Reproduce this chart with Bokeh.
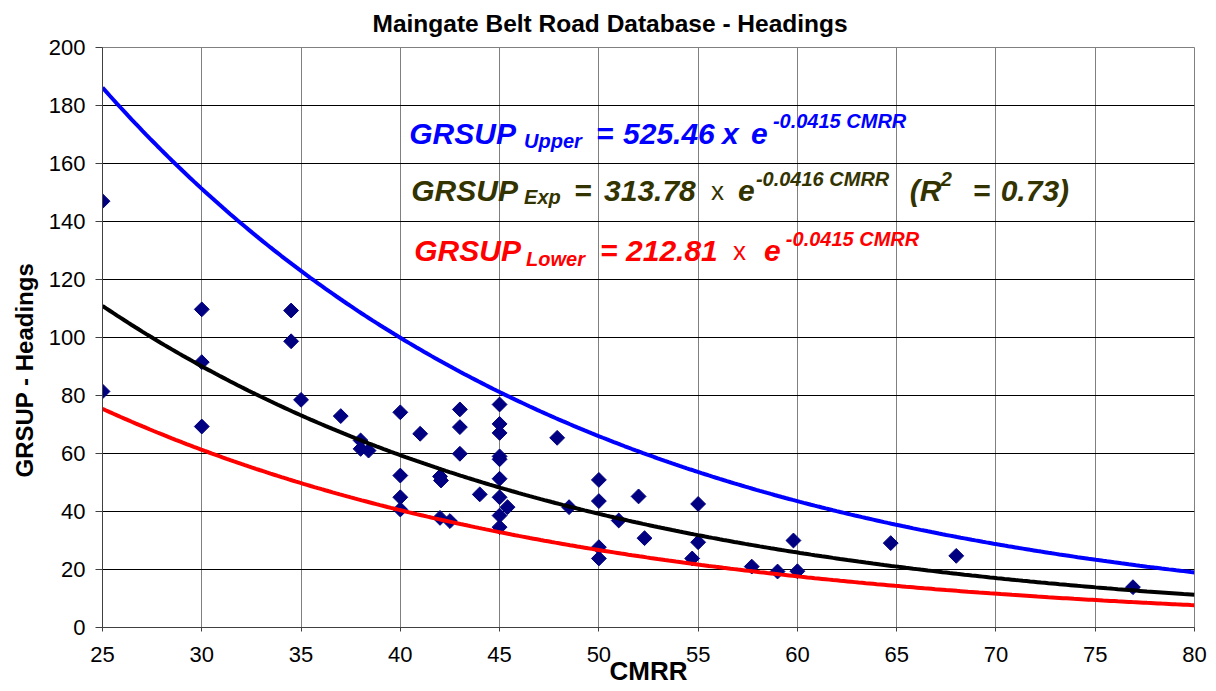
import numpy as np
from bokeh.plotting import figure
from bokeh.models import Range1d, FixedTicker, Label, Title
from bokeh.embed import file_html
from bokeh.resources import INLINE

# ---- data ----
cmrr = [25, 25, 30, 30, 30, 34.5, 34.5, 35, 37, 38, 38, 38.4, 40, 40, 40, 40, 41,
        42, 42.05, 42, 42.5, 43, 43, 43, 44, 45, 45, 45, 45, 45, 45, 45, 45, 45,
        45.4, 47.9, 48.5, 50, 50, 50, 50, 51, 52, 52.3, 55, 55, 54.7, 57.7, 59,
        59.8, 60, 64.7, 68, 76.9]
grsup = [147, 81.4, 109.7, 91.5, 69.3, 109.3, 98.7, 78.5, 72.9, 64.5, 61.6, 61.0,
         74.2, 52.4, 44.9, 40.7, 66.8, 52.1, 50.7, 37.8, 36.7, 75.2, 69.1, 59.9,
         45.9, 76.9, 70.2, 67.1, 59.0, 58.0, 51.3, 44.9, 38.6, 34.6, 41.5, 65.4,
         41.5, 50.9, 43.6, 27.7, 23.8, 36.9, 45.2, 30.8, 42.6, 29.4, 23.8, 21.0,
         19.3, 30.0, 19.4, 29.1, 24.7, 13.9]

fit_names = ["Upper", "Exp", "Lower"]
fit_coef = [525.46, 313.78, 212.81]
fit_rate = [-0.0415, -0.0416, -0.0415]
fit_colors = ["#0000FF", "#000000", "#FF0000"]

x_ticks = [25, 30, 35, 40, 45, 50, 55, 60, 65, 70, 75, 80]
y_ticks = [0, 20, 40, 60, 80, 100, 120, 140, 160, 180, 200]

title_text = "Maingate Belt Road Database - Headings"
x_label = "CMRR"
y_label = "GRSUP - Headings"

FONT = "Liberation Sans"

p = figure(width=1216, height=691, output_backend="svg", toolbar_location=None,
           x_range=Range1d(25, 80), y_range=Range1d(0, 200),
           min_border_left=101, min_border_right=22, min_border_top=47,
           min_border_bottom=64, background_fill_color="white",
           border_fill_color="white")

p.add_layout(Title(text=title_text, align="left", offset=270, standoff=17,
                   vertical_align="top",
                   text_font=FONT, text_font_size="24.5px",
                   text_font_style="bold", text_color="black"), "above")
p.add_layout(Title(text=y_label, align="left", offset=150, standoff=16,
                   text_font=FONT, text_font_size="24px",
                   text_font_style="bold", text_color="black"), "left")

p.outline_line_color = "#808080"
p.xgrid.grid_line_color = "#808080"
p.ygrid.grid_line_color = "#000000"
p.xgrid.ticker = FixedTicker(ticks=x_ticks)
p.ygrid.ticker = FixedTicker(ticks=y_ticks)

p.xaxis.ticker = FixedTicker(ticks=x_ticks)
p.yaxis.ticker = FixedTicker(ticks=y_ticks)
for ax in (p.xaxis[0], p.yaxis[0]):
    ax.major_label_text_font = FONT
    ax.major_label_text_font_size = "22px"
    ax.major_label_text_color = "black"
    ax.minor_tick_line_color = None
    ax.major_tick_in = 0
    ax.major_tick_line_color = "#404040"
p.xaxis.major_tick_out = 4
p.yaxis.major_tick_out = 7
p.xaxis.major_label_standoff = 15
p.yaxis.major_label_standoff = 10
p.xaxis.axis_line_color = "#404040"
p.yaxis.axis_line_color = "#404040"
p.xaxis.axis_label = x_label
p.xaxis.axis_label_text_font = FONT
p.xaxis.axis_label_text_font_size = "26px"
p.xaxis.axis_label_text_font_style = "bold"
p.xaxis.axis_label_text_color = "black"
p.xaxis.axis_label_standoff = -9

# scatter
p.scatter(cmrr, grsup, marker="square", angle=np.pi / 4, size=10.5,
          fill_color="#000080", line_color="#000080")

# fitted curves
xs = np.linspace(x_ticks[0], x_ticks[-1], 300)
for c, r, col in zip(fit_coef, fit_rate, fit_colors):
    p.line(xs, c * np.exp(r * xs), line_color=col, line_width=4)

# helpers: screen pixel (reference picture) -> data
def dx(px):
    return 25 + (px - 101) * 55.0 / 1093.0

def dy(py):
    return (627 - py) * 200.0 / 580.0

def lab(text, px, py, size, color, style="bold italic"):
    p.add_layout(Label(x=dx(px), y=dy(py - 7), text=text, text_font=FONT,
                       text_font_size=f"{size}px", text_color=color,
                       text_font_style=style, text_align="left",
                       text_baseline="alphabetic"))

# equation annotations
blue, olive, red = "#0000FF", "#333300", "#FF0000"
eq1 = [("GRSUP", 408, 140, 30), ("Upper", 523, 147, 20), ("=", 595, 140, 30),
       ("525.46", 622, 140, 30), ("x", 721, 140, 30), ("e", 750, 140, 30),
       ("-0.0415 CMRR", 772, 127, 20)]
eq2 = [("GRSUP", 410, 197, 30), ("Exp", 523, 203, 20), ("=", 573, 197, 30),
       ("313.78", 603, 197, 30), ("e", 737, 197, 30),
       ("-0.0416 CMRR", 755, 185, 20), ("(R", 909, 197, 30), ("2", 940, 185, 20),
       ("=", 972, 197, 30), ("0.73)", 1000, 197, 30)]
eq3 = [("GRSUP", 413, 257, 30), ("Lower", 525, 265, 20), ("=", 599, 257, 30),
       ("212.81", 625, 257, 30), ("e", 763, 257, 30),
       ("-0.0415 CMRR", 785, 245, 20)]
for t, x, y, s in eq1:
    lab(t, x, y, s, blue)
for t, x, y, s in eq2:
    lab(t, x, y, s, olive)
for t, x, y, s in eq3:
    lab(t, x, y, s, red)
lab("x", 710, 197, 26, olive, style="normal")
lab("x", 732, 257, 26, red, style="normal")

open("out.html", "w").write(file_html(p, INLINE))
